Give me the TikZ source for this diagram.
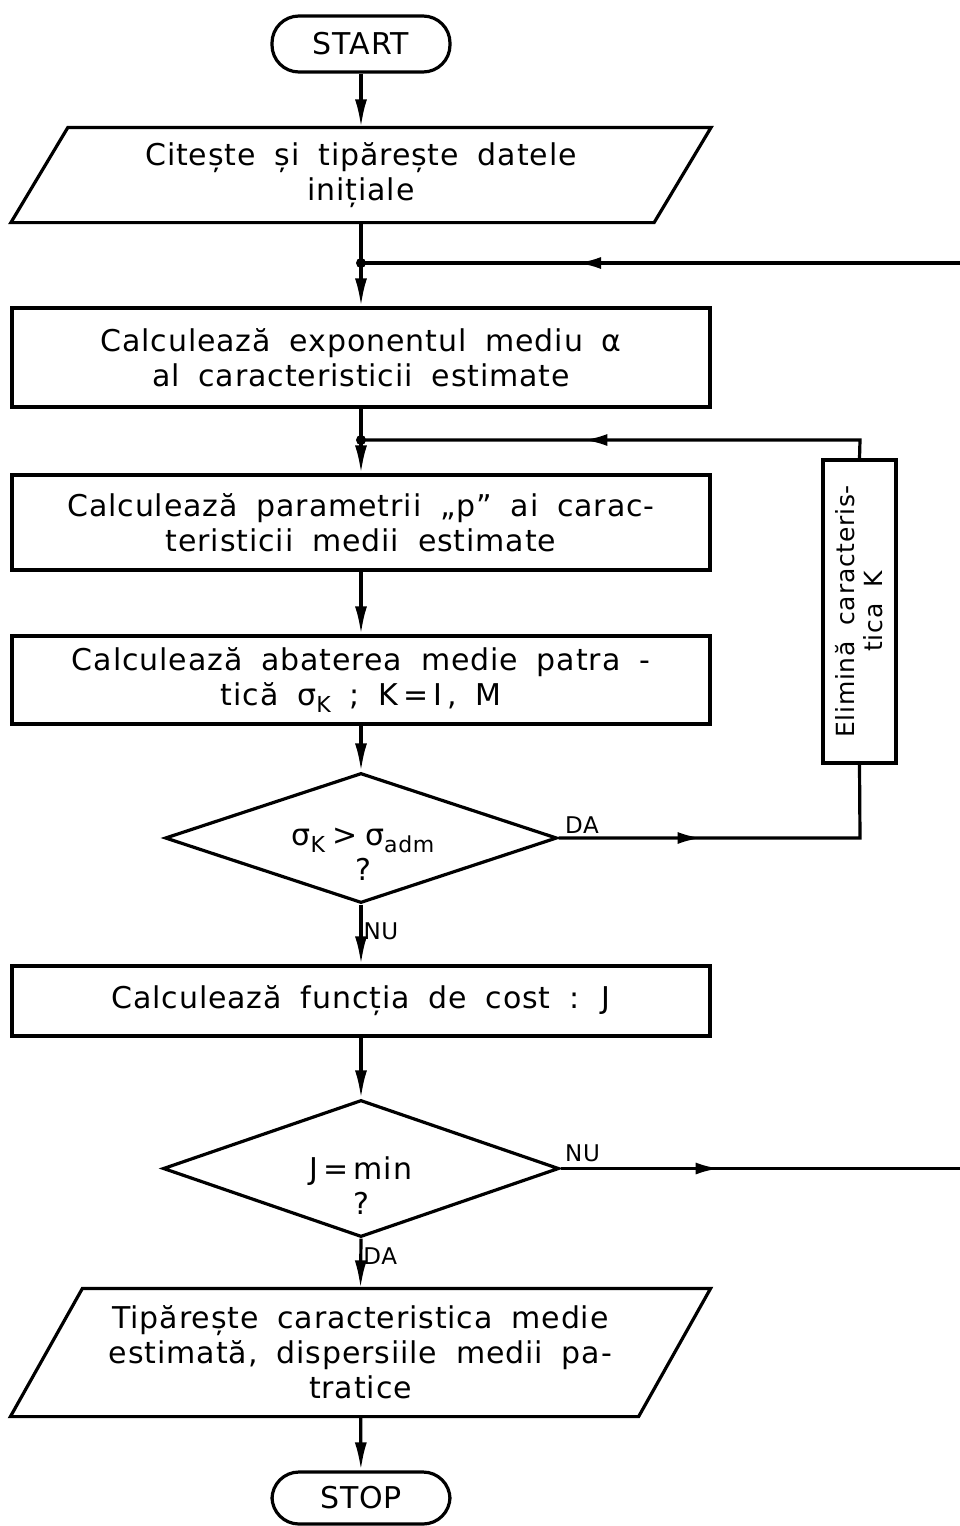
\documentclass[tikz,border=0pt]{standalone}
\usepackage{fontspec}
\setmainfont{DejaVu Sans}[LetterSpace=3,WordSpace=1.8]
\usetikzlibrary{arrows.meta,decorations.markings,calc,shapes.geometric}

% lowered index in the flowchart formulas
\newcommand{\lowidx}[1]{\raisebox{-0.45ex}{\fontsize{22}{22}\selectfont #1}}

\begin{document}
\begin{tikzpicture}[x=1pt,y=-1pt,line width=3.2pt,
  txt/.style={font=\fontsize{30}{35}\selectfont,align=center,inner sep=0pt},
  lbl/.style={font=\fontsize{23}{25}\selectfont,inner sep=1pt},
  terminal/.style={txt,draw,rounded corners=27pt,minimum width=178,minimum height=56},
  procbox/.style={txt,draw,rectangle,minimum width=698},
  iobox/.style={txt,rectangle,minimum width=697},
  decision/.style={draw,diamond,aspect=3,inner sep=0pt},
  flow/.style={-{Latex[length=28pt,width=12pt]}},
  midarrow/.style={postaction={decorate},decoration={markings,
      mark=at position #1 with {\arrow{Latex[length=24pt,width=12pt]}}}}
]
\useasboundingbox (0,0) rectangle (960,1526);

% ---- blocks ----
\node[terminal] (start) at (361,44) {START};

\node[iobox,minimum height=92] (read) at (361,175)
  {Citește și tipărește datele\\inițiale};
\draw (read.south west) -- ($(read.north west)+(57,0)$) -- (read.north east)
  -- ($(read.south east)+(-57,0)$) -- cycle;

\node[procbox,minimum height=99] (alpha) at (361,357.5)
  {Calculează exponentul mediu α\\al caracteristicii estimate};

\node[procbox,minimum height=95] (param) at (361,522.5)
  {Calculează parametrii „p” ai carac-\\teristicii medii estimate};

\node[procbox,minimum height=88] (sigma) at (361,680)
  {Calculează abaterea medie patra -\\tică σ\lowidx{K} ; K\,=\,I\,, M};

\node[decision,minimum width=392,minimum height=130] (test1) at (361,838) {};
\node[txt] (test1txt) at (363,854)
  {σ\lowidx{K}\hspace{0.25em}>\hspace{0.25em}σ\lowidx{adm}\\?};

\node[txt,draw,rectangle,rotate=90,minimum width=303,minimum height=73,
  font=\fontsize{25}{28}\selectfont] (elim) at (859.5,611.5)
  {Elimină caracteris-\\tica K};

\node[procbox,minimum height=70] (cost) at (361,1001)
  {Calculează funcția de cost : J};

\node[decision,minimum width=396,minimum height=137] (test2) at (361,1168.5) {};
\node[txt] (test2txt) at (361,1186) {J\,=\,min\\?};

\node[iobox,minimum height=125] (print) at (360.5,1352.5)
  {Tipărește caracteristica medie\\estimată, dispersiile medii pa-\\tratice};
\draw (print.south west) -- ($(print.north west)+(72,0)$) -- (print.north east)
  -- ($(print.south east)+(-72,0)$) -- cycle;

\node[terminal,minimum height=52] (stop) at (361,1498) {STOP};

% ---- junctions and off-page ends ----
\coordinate (j1) at (361,263);
\coordinate (j2) at (361,440);
\coordinate (back) at (960,263);
\coordinate (fwd) at (960,1168.5);
\coordinate (c1) at (860,440);
\coordinate (c2) at (860,838);

% ---- main flow ----
\draw[flow] (start) -- (read);
\draw (read.south) -- (j1);
\draw[flow] (j1) -- (alpha.north);
\draw (alpha.south) -- (j2);
\draw[flow] (j2) -- (param.north);
\draw[flow] (param) -- (sigma);
\draw[flow] (sigma) -- (test1.north);
\draw[flow] (test1.south) -- node[lbl,right,pos=0.45] {NU} (cost.north);
\draw[flow] (cost) -- (test2.north);
\draw[flow] (test2.south) -- node[lbl,right,pos=0.35] {DA} (print.north);
\draw[flow] (print) -- (stop);

% ---- loops ----
\draw[midarrow=383pt] (back) -- (j1);
\draw[midarrow=295pt] (elim.east) -- (c1) -- (j2);
\draw[midarrow=143pt] (test1.east) -- (c2) -- (elim.west);
\draw[midarrow=159pt] (test2.east) -- (fwd);
\node[lbl,anchor=south west] at ($(test1.east)+(4,-2)$) {DA};
\node[lbl,anchor=south west] at ($(test2.east)+(2,-4)$) {NU};

\fill (j1) circle[radius=5pt];
\fill (j2) circle[radius=5pt];
\end{tikzpicture}
\end{document}
